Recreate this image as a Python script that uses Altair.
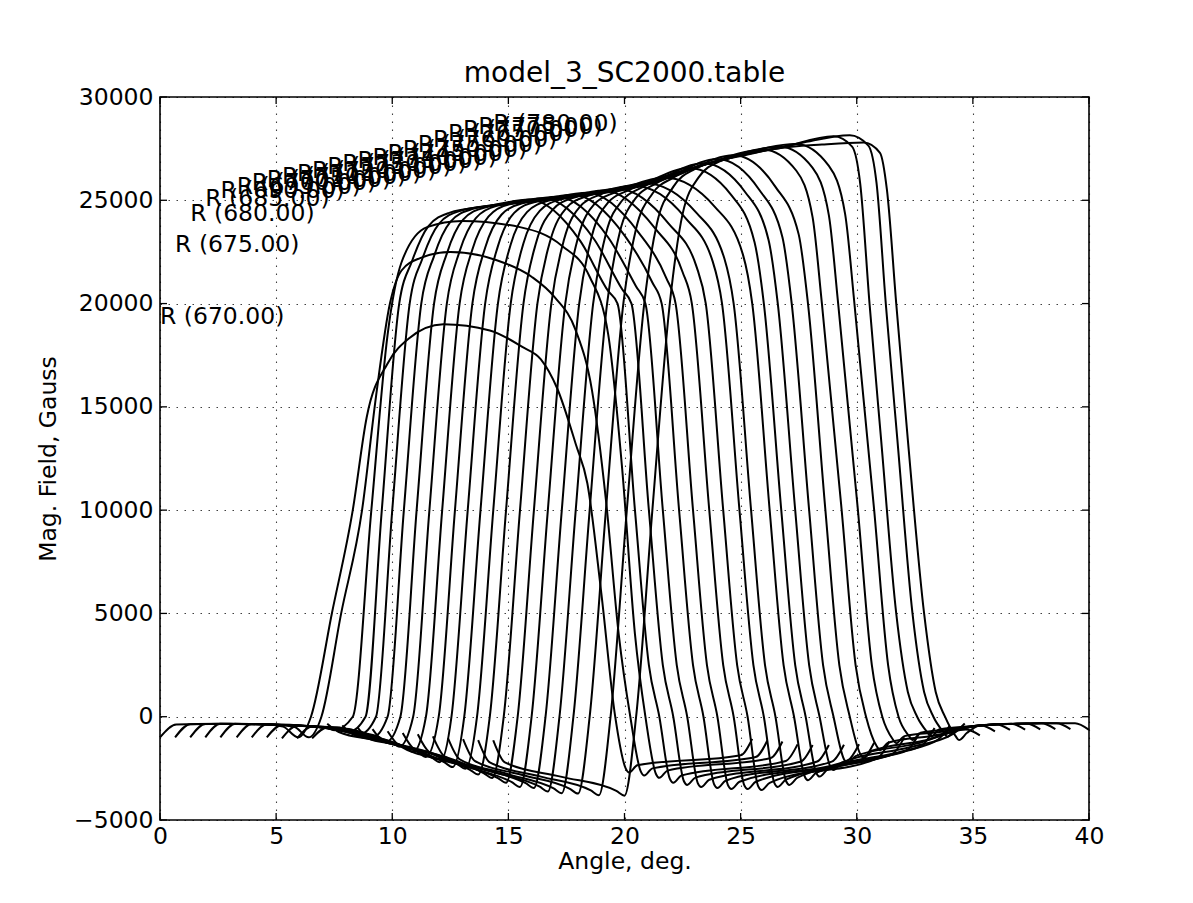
import altair as alt
import pandas as pd

R_VALUES = [670, 675, 680, 685, 690, 695, 700, 705, 710, 715, 720, 725,
            730, 735, 740, 745, 750, 755, 760, 765, 770, 775, 780]

A0 = [0.0, 0.7, 2.5, 4.5, 5.3, 5.95, 6.5, 7.4, 8.3, 8.9, 9.8, 10.7, 12.2, 14.2, 15.6, 16.4, 17.1, 17.9, 18.4, 19.0, 19.6, 20.05, 20.2, 20.55, 25.0, 25.5]
F0 = [-1000, -380, -345, -370, -480, -1000, 0, 5000, 10000, 14500, 17100, 18300, 19000, 18700, 17900, 17300, 15900, 13200, 11300, 6000, 0, -2500, -2700, -2350, -1870, -1070]
A1 = [0.65, 1.3, 3.0, 5.0, 5.8, 6.4, 6.95, 7.8, 8.7, 9.3, 9.9, 10.4, 11.2, 12.5, 14.5, 16.0, 17.0, 17.9, 18.6, 19.2, 19.75, 20.25, 20.7, 20.85, 21.2, 25.65, 26.15]
F1 = [-1000, -360, -345, -390, -500, -1000, 0, 5000, 10000, 15500, 20000, 21600, 22200, 22500, 22100, 21300, 20300, 18700, 15800, 10500, 4000, 0, -2650, -2850, -2500, -1950, -1150]
A2 = [1.3, 1.95, 4.0, 6.0, 7.1, 7.5, 8.3, 9.1, 9.8, 10.4, 11.5, 13.0, 15.5, 17.3, 18.5, 19.3, 19.9, 20.45, 20.9, 21.35, 21.5, 21.85, 26.3, 26.8]
F2 = [-1000, -350, -350, -440, -500, -650, 0, 10000, 18500, 22000, 23700, 24000, 23700, 22800, 21300, 18500, 12000, 4000, 0, -2760, -2960, -2610, -2000, -1200]
A3 = [1.95, 2.6, 5.0, 6.6, 7.75, 8.1, 8.85, 9.55, 10.3, 10.85, 11.55, 12.45, 14.2, 15.9, 18.1, 19.3, 19.7, 20.45, 21.05, 21.5, 21.95, 22.1, 22.45, 26.95, 27.45]
F3 = [-1000, -345, -390, -470, -520, -750, 0, 10000, 20000, 22050, 23740, 24390, 24730, 25040, 23020, 20600, 20000, 10000, 2500, 0, -3000, -3200, -2850, -2140, -1340]
A4 = [2.6, 3.25, 5.0, 6.6, 7.42, 8.25, 8.6, 9.3, 10.0, 10.75, 11.3, 12.0, 12.9, 14.7, 16.5, 18.7, 19.9, 20.3, 21.05, 21.65, 22.1, 22.55, 22.7, 23.05, 27.6, 28.1]
F4 = [-1000, -345, -390, -470, -530, -620, -850, 0, 10000, 20000, 22180, 23850, 24480, 24800, 25100, 23100, 20690, 20000, 10000, 2500, 0, -3100, -3300, -2950, -2170, -1370]
A5 = [3.3, 3.95, 5.0, 6.6, 7.7, 8.8, 9.15, 9.8, 10.5, 11.25, 11.8, 12.5, 13.4, 15.25, 17.1, 19.3, 20.5, 20.9, 21.65, 22.25, 22.7, 23.15, 23.3, 23.65, 28.3, 28.8]
F5 = [-1000, -350, -390, -470, -590, -770, -1000, 0, 10000, 20000, 22300, 23950, 24560, 24880, 25170, 23200, 20830, 20000, 10000, 2500, 0, -3200, -3400, -3050, -2170, -1370]
A6 = [3.95, 4.6, 6.6, 8.0, 9.4, 9.75, 10.35, 11.05, 11.8, 12.35, 13.05, 13.95, 15.9, 17.8, 20.0, 21.2, 21.6, 22.35, 22.95, 23.4, 23.85, 24.0, 24.35, 28.95, 29.45]
F6 = [-1000, -370, -470, -670, -970, -1200, 0, 10000, 20000, 22420, 24060, 24640, 24940, 25270, 23300, 21020, 20000, 10000, 2500, 0, -3250, -3450, -3100, -2160, -1360]
A7 = [4.6, 5.25, 6.6, 8.28, 9.95, 10.3, 10.9, 11.6, 12.35, 12.9, 13.6, 14.5, 16.45, 18.4, 20.6, 21.8, 22.2, 22.95, 23.55, 24.0, 24.45, 24.6, 24.95, 29.6, 30.1]
F7 = [-1000, -400, -470, -770, -1220, -1450, 0, 10000, 20000, 22530, 24140, 24730, 25000, 25360, 23450, 21230, 20000, 10000, 2500, 0, -3300, -3500, -3150, -2130, -1330]
A8 = [5.25, 5.9, 6.6, 8.58, 10.55, 10.9, 11.45, 12.15, 12.9, 13.45, 14.15, 15.05, 17.08, 19.1, 21.3, 22.5, 22.9, 23.65, 24.25, 24.7, 25.15, 25.3, 25.65, 30.25, 30.75]
F8 = [-1050, -440, -470, -870, -1470, -1700, 0, 10000, 20000, 22620, 24220, 24810, 25060, 25470, 23660, 21530, 20000, 10000, 2500, 0, -3300, -3500, -3150, -2060, -1260]
A9 = [5.9, 6.55, 8.83, 11.1, 11.45, 12.0, 12.7, 13.45, 14.0, 14.7, 15.6, 17.65, 19.7, 21.9, 23.1, 23.5, 24.25, 24.85, 25.3, 25.75, 25.9, 26.25, 30.9, 31.4]
F9 = [-1050, -470, -970, -1720, -1950, 0, 10000, 20000, 22700, 24300, 24860, 25150, 25560, 23870, 21790, 20000, 10000, 2500, 0, -3350, -3550, -3200, -2000, -1200]
A10 = [6.55, 7.2, 9.45, 11.7, 12.05, 12.55, 13.25, 14.0, 14.55, 15.25, 16.15, 18.28, 20.4, 22.6, 23.8, 24.2, 24.95, 25.55, 26.0, 26.45, 26.6, 26.95, 31.13, 31.55, 32.05]
F10 = [-1050, -520, -1100, -1970, -2200, 0, 10000, 20000, 22780, 24390, 24920, 25240, 25700, 24170, 22030, 20000, 10000, 2500, 0, -3200, -3400, -3050, -1950, -1800, -1000]
A11 = [7.2, 7.7, 9.43, 12.25, 12.6, 13.1, 13.8, 14.55, 15.1, 15.8, 16.7, 18.8, 20.9, 23.1, 24.3, 24.7, 25.45, 26.05, 26.5, 26.95, 27.1, 27.45, 31.38, 32.2, 32.7]
F11 = [-340, -740, -1170, -2210, -2440, 0, 10000, 20000, 22860, 24430, 24970, 25320, 25830, 24390, 22180, 20000, 10000, 2500, 0, -3100, -3300, -2950, -1890, -1590, -790]
A12 = [7.85, 8.35, 9.7, 12.8, 13.15, 13.65, 14.35, 15.1, 15.65, 16.35, 17.25, 19.48, 21.7, 23.9, 25.1, 25.5, 26.25, 26.85, 27.3, 27.75, 27.9, 28.25, 31.78, 32.85, 33.35]
F12 = [-420, -880, -1200, -2290, -2520, 0, 10000, 20000, 22920, 24490, 25040, 25420, 26100, 24670, 22370, 20000, 10000, 2500, 0, -2870, -3070, -2720, -1760, -1350, -550]
A13 = [8.5, 9.0, 9.98, 13.35, 13.7, 14.2, 14.9, 15.65, 16.2, 16.9, 17.8, 20.3, 22.8, 24.6, 25.6, 26.0, 26.75, 27.35, 27.8, 28.25, 28.4, 28.75, 32.03, 33.5, 34.0]
F13 = [-520, -1070, -1310, -2570, -2800, 0, 10000, 20000, 22970, 24540, 25120, 25580, 26560, 25250, 22970, 20000, 10000, 2500, 0, -2700, -2900, -2550, -1660, -1110, -440]
A14 = [9.15, 9.65, 10.28, 13.95, 14.3, 14.8, 15.5, 16.25, 16.8, 17.5, 18.4, 20.9, 23.4, 25.2, 26.2, 26.6, 27.35, 27.95, 28.4, 28.85, 29.0, 29.35, 32.33, 34.15, 34.65]
F14 = [-600, -1220, -1380, -2740, -2970, 0, 10000, 20000, 23030, 24630, 25210, 25730, 26790, 25390, 23090, 20000, 10000, 2500, 0, -2380, -2580, -2230, -1470, -830, -330]
A15 = [9.8, 10.3, 12.4, 14.55, 14.9, 15.4, 16.1, 16.85, 17.4, 18.1, 19.0, 21.5, 24.0, 25.8, 26.8, 27.2, 27.95, 28.55, 29.0, 29.45, 29.6, 29.95, 32.63, 34.7, 35.3]
F15 = [-700, -1400, -2150, -2970, -3200, 0, 10000, 20000, 23110, 24720, 25300, 25930, 27000, 25510, 23210, 20000, 10000, 2500, 0, -2060, -2260, -1910, -1290, -620, -900]
A16 = [10.45, 10.95, 13.05, 15.15, 15.5, 16.0, 16.7, 17.45, 18.0, 18.7, 19.6, 22.15, 24.7, 26.5, 27.5, 27.9, 28.65, 29.25, 29.7, 30.15, 30.3, 30.65, 32.98, 35.35, 35.95]
F16 = [-790, -1580, -2370, -3170, -3400, 0, 10000, 20000, 23200, 24810, 25390, 26170, 27180, 25650, 23350, 20000, 10000, 2500, 0, -1800, -2000, -1650, -1140, -430, -710]
A17 = [11.1, 11.6, 13.7, 15.75, 16.1, 16.6, 17.3, 18.05, 18.6, 19.3, 20.2, 23.1, 26.0, 27.4, 28.1, 28.5, 29.35, 29.95, 30.4, 30.85, 31.0, 31.35, 33.33, 35.3, 36.0, 36.6]
F17 = [-850, -1720, -2480, -3220, -3450, 0, 10000, 20000, 23290, 24900, 25500, 26590, 27450, 26430, 24170, 20000, 10000, 2500, 0, -1410, -1610, -1260, -910, -430, -360, -640]
A18 = [11.75, 12.25, 14.3, 16.35, 16.7, 17.2, 17.9, 18.65, 19.2, 19.9, 20.8, 23.75, 26.7, 28.1, 28.8, 29.2, 30.05, 30.65, 31.1, 31.55, 31.7, 32.05, 33.68, 35.3, 36.65, 37.25]
F18 = [-950, -1920, -2650, -3390, -3620, 0, 10000, 20000, 23380, 24990, 25650, 26810, 27590, 26570, 24270, 20000, 10000, 2500, 0, -1090, -1290, -940, -730, -430, -345, -625]
A19 = [12.4, 12.9, 14.95, 16.95, 17.3, 17.8, 18.5, 19.25, 19.8, 20.5, 21.4, 24.4, 27.4, 28.8, 29.5, 29.9, 30.75, 31.35, 31.8, 32.25, 32.4, 32.75, 34.0, 35.3, 36.5, 37.3, 37.9]
F19 = [-1040, -2060, -2770, -3470, -3700, 0, 10000, 20000, 23470, 25130, 25840, 27000, 27730, 26670, 24330, 20000, 10000, 2500, 0, -930, -1130, -780, -610, -430, -350, -330, -610]
A20 = [13.05, 13.55, 15.6, 17.65, 18.0, 18.5, 19.2, 19.95, 20.5, 21.2, 22.1, 24.5, 26.8, 29.0, 29.8, 30.15, 30.55, 31.05, 31.7, 32.2, 32.6, 33.05, 33.2, 33.55, 35.3, 36.5, 37.95, 38.55]
F20 = [-1090, -2140, -2820, -3490, -3720, 0, 10000, 20000, 23630, 25320, 26100, 27030, 27560, 28100, 27600, 25800, 20000, 13400, 5000, 1200, 0, -770, -970, -620, -430, -350, -320, -600]
A21 = [13.7, 14.2, 16.4, 18.55, 18.9, 19.4, 20.1, 20.85, 21.4, 22.1, 23.0, 25.3, 27.6, 29.7, 30.5, 30.85, 31.25, 31.75, 32.4, 32.9, 33.3, 33.75, 33.9, 34.25, 35.3, 36.5, 38.0, 38.6, 39.2]
F21 = [-1130, -2210, -2900, -3570, -3800, 0, 10000, 20000, 23890, 25650, 26500, 27210, 27770, 28150, 27650, 25850, 20000, 13400, 5000, 1200, 0, -770, -970, -620, -430, -350, -320, -320, -600]
A22 = [14.35, 14.85, 17.25, 19.65, 20.0, 20.5, 21.2, 21.95, 22.5, 23.2, 24.1, 26.5, 28.5, 30.3, 31.0, 31.3, 31.7, 32.2, 32.9, 33.4, 33.8, 34.25, 34.4, 34.75, 35.3, 36.5, 38.0, 39.4, 40.0]
F22 = [-1140, -2210, -2900, -3590, -3820, 0, 10000, 20000, 24330, 26120, 26880, 27500, 27700, 27800, 27300, 25500, 20000, 13400, 5000, 1200, 0, -930, -1130, -780, -430, -350, -320, -320, -640]

ANGLES = [A0, A1, A2, A3, A4, A5, A6, A7, A8, A9, A10, A11, A12, A13, A14, A15, A16, A17, A18, A19, A20, A21, A22]
FIELDS = [F0, F1, F2, F3, F4, F5, F6, F7, F8, F9, F10, F11, F12, F13, F14, F15, F16, F17, F18, F19, F20, F21, F22]

LABEL_X = [0.0, 0.65, 1.3, 1.95, 2.6, 3.3, 3.95, 4.6, 5.25, 5.9, 6.55, 7.2,
           7.85, 8.5, 9.15, 9.8, 10.45, 11.1, 11.75, 12.4, 13.05, 13.7, 14.35]
LABEL_Y = [19000, 22500, 24000, 24700, 25100, 25300, 25500, 25650, 25800, 25950, 26100, 26250,
           26400, 26550, 26700, 26900, 27100, 27350, 27600, 27850, 28050, 28200, 28350]

X_TICKS = [0, 5, 10, 15, 20, 25, 30, 35, 40]
Y_TICKS = [-5000, 0, 5000, 10000, 15000, 20000, 25000, 30000]

TITLE = "model_3_SC2000.table"
X_TITLE = "Angle, deg."
Y_TITLE = "Mag. Field, Gauss"

W, H = 929, 723
FONT = "DejaVu Sans"
FS = 23.5

rows = []
for r, xs_, ys_ in zip(R_VALUES, ANGLES, FIELDS):
    for a, f in zip(xs_, ys_):
        rows.append({"R": r, "angle": a, "field": f})
df = pd.DataFrame(rows)

lab_df = pd.DataFrame({"lx": LABEL_X, "ly": LABEL_Y,
                       "label": ["R (%d.00)" % r for r in R_VALUES]})

xs = alt.Scale(domain=[0, 40], nice=False, zero=False)
ys = alt.Scale(domain=[-5000, 30000], nice=False, zero=False)

x_axis = alt.Axis(values=X_TICKS, format="d", title=X_TITLE, grid=True,
                  gridColor="#000000", gridDash=[1.5, 6.5], gridWidth=1.1, gridOpacity=0.75,
                  ticks=False, tickSize=0, domain=False, labelPadding=4, labelFlush=False,
                  labelOverlap=False,
                  labelFont=FONT, labelFontSize=FS, labelColor="black",
                  titleFont=FONT, titleFontSize=FS, titleFontWeight="normal", titleColor="black",
                  titleX=W / 2, titleY=48, titleBaseline="alphabetic", titleAlign="center")
y_axis = alt.Axis(values=Y_TICKS, format="d", title=Y_TITLE, grid=True,
                  gridColor="#000000", gridDash=[1.5, 6.5], gridWidth=1.1, gridOpacity=0.75,
                  ticks=False, tickSize=0, domain=False, labelPadding=7, labelFlush=False,
                  labelOverlap=False,
                  labelFont=FONT, labelFontSize=FS, labelColor="black",
                  titleFont=FONT, titleFontSize=FS, titleFontWeight="normal", titleColor="black",
                  titleX=-105, titleY=H / 2, titleAngle=270, titleBaseline="alphabetic",
                  titleAlign="center")

X_ENC = dict(scale=xs, axis=x_axis)
Y_ENC = dict(scale=ys, axis=y_axis)

lines = alt.Chart(df).mark_line(color="black", strokeWidth=2, interpolate="monotone").encode(
    x=alt.X("angle:Q", **X_ENC),
    y=alt.Y("field:Q", **Y_ENC),
    detail="R:N",
)

labels = alt.Chart(lab_df).mark_text(align="left", baseline="alphabetic", font=FONT,
                                     fontSize=FS, color="black").encode(
    x=alt.X("lx:Q", **X_ENC),
    y=alt.Y("ly:Q", **Y_ENC),
    text="label:N",
)

xt = pd.DataFrame({"t": X_TICKS})
yt = pd.DataFrame({"t": Y_TICKS})
tick_style = dict(color="black", strokeWidth=1.3)
xt_bottom = alt.Chart(xt).mark_rule(**tick_style).encode(
    x=alt.X("t:Q", **X_ENC), y=alt.value(H), y2=alt.value(H - 7))
xt_top = alt.Chart(xt).mark_rule(**tick_style).encode(
    x=alt.X("t:Q", **X_ENC), y=alt.value(0), y2=alt.value(7))
yt_left = alt.Chart(yt).mark_rule(**tick_style).encode(
    y=alt.Y("t:Q", **Y_ENC), x=alt.value(0), x2=alt.value(7))
yt_right = alt.Chart(yt).mark_rule(**tick_style).encode(
    y=alt.Y("t:Q", **Y_ENC), x=alt.value(W), x2=alt.value(W - 7))

title_df = pd.DataFrame({"title": [TITLE]})
title_mark = alt.Chart(title_df).mark_text(align="center", baseline="alphabetic", font=FONT,
                                           fontSize=28, color="black").encode(
    x=alt.value(W / 2), y=alt.value(-15), text="title:N")

chart = alt.layer(lines, labels, xt_bottom, xt_top, yt_left, yt_right, title_mark).properties(
    width=W, height=H,
    autosize=alt.AutoSizeParams(type="none"),
    padding={"left": 152, "top": 89, "right": 96, "bottom": 75},
    background="white",
).configure_view(stroke="black", strokeWidth=1.6)

chart.save("out.html", embed_options={"renderer": "svg", "actions": False})
